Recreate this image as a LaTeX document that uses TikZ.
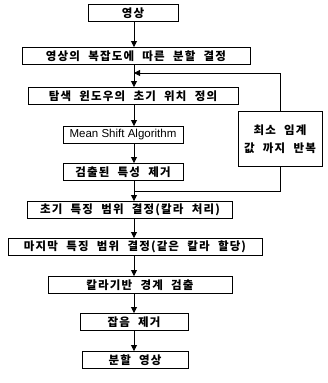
\documentclass[tikz,border=0pt]{standalone}
\usepackage{fontspec}
\newfontfamily\kr[LetterSpace=10,WordSpace=2.2]{Noto Sans CJK KR}
\setsansfont{Liberation Sans}
\usetikzlibrary{arrows.meta}
\tikzset{
  stepbox/.style={draw,line width=0.9pt,fill=white,minimum height=17pt,inner sep=0pt,
    font=\kr\bfseries\fontsize{11.5}{18}\selectfont},
  flow/.style={line width=0.8pt,-{Triangle[length=6pt,width=6pt]}}
}
\begin{document}
\begin{tikzpicture}[x=1pt,y=-1pt]
\useasboundingbox (0,0) rectangle (328,383);
\coordinate (axis) at (134,0);
\node[stepbox,minimum width=90pt] (img) at (133,13) {영상};
\node[stepbox,minimum width=228pt] (cplx) at (136,56) {영상의 복잡도에 따른 분할 결정};
\node[stepbox,minimum width=210pt] (win) at (133,96) {탐색 윈도우의 초기 위치 정의};
\node[stepbox,minimum width=120pt,font=\sffamily\fontsize{11.5}{13}\selectfont] (ms) at (123,135) {Mean Shift Algorithm};
\node[stepbox,minimum width=120pt] (rem) at (123,172) {검출된 특성 제거};
\node[stepbox,minimum width=205pt] (init) at (130,210) {초기 특징 범위 결정(칼라 처리)};
\node[stepbox,minimum width=254pt] (last) at (135,247) {마지막 특징 범위 결정(같은 칼라 할당)};
\node[stepbox,minimum width=184pt] (edge) at (140,285) {칼라기반 경계 검출};
\node[stepbox,minimum width=108pt] (noise) at (134,322) {잡음 제거};
\node[stepbox,minimum width=106pt] (seg) at (135,360) {분할 영상};
\node[stepbox,minimum width=84pt,minimum height=55pt,align=center] (loop) at (280,139) {최소 임계\\값 까지 반복};
\coordinate (back) at (134,191);
\coordinate (entry) at (134,73);
\foreach \a/\b in {img/cplx,cplx/win,win/ms,ms/rem,rem/init,init/last,last/edge,edge/noise,noise/seg}
  \draw[flow] (\a.south -| axis) -- (\b.north -| axis);
\draw[line width=0.8pt] (back) -| (loop.south);
\draw[flow] (loop.north) |- (entry);
\end{tikzpicture}
\end{document}
